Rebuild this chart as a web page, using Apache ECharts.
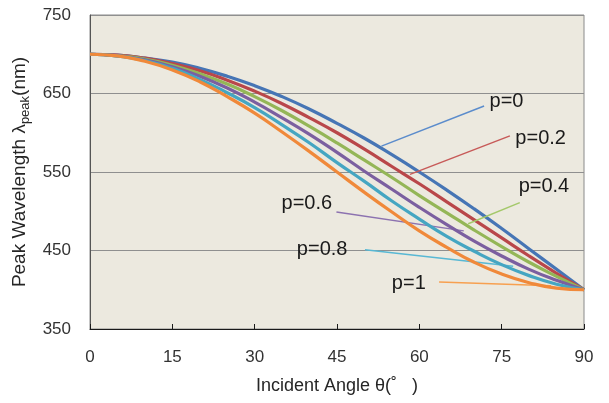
<!DOCTYPE html>
<html>
<head>
<meta charset="utf-8">
<script src="https://cdn.jsdelivr.net/npm/echarts@6/dist/echarts.min.js"></script>
<style>
  html, body { margin: 0; padding: 0; background: #fff; }
  #chart { width: 609px; height: 403px; }
</style>
</head>
<body>
<div id="chart"></div>
<script>
// incident angle (deg)
const angles = [0, 5, 10, 15, 20, 25, 30, 35, 40, 45, 50, 55, 60, 65, 70, 75, 80, 85, 90]

// peak wavelength (nm)
const p0  = [700, 699, 695, 690, 682, 672, 660, 646, 630, 612, 593, 572, 550, 527, 503, 478, 452, 426, 400]
const p02 = [700, 699, 695, 688, 679, 667, 653, 637, 619, 600, 579, 557, 535, 512, 489, 466, 443, 421, 400]
const p04 = [700, 698, 694, 686, 675, 662, 646, 628, 608, 587, 565, 543, 520, 498, 476, 455, 435, 417, 400]
const p06 = [700, 698, 693, 684, 672, 657, 639, 619, 598, 575, 551, 528, 505, 483, 462, 443, 426, 412, 400]
const p08 = [700, 698, 692, 682, 668, 651, 632, 610, 587, 562, 538, 513, 490, 468, 449, 432, 418, 407, 400]
const p1  = [700, 698, 691, 680, 665, 646, 625, 601, 576, 550, 524, 499, 475, 454, 435, 420, 409, 402, 400]

const seriesNames = ['p=0', 'p=0.2', 'p=0.4', 'p=0.6', 'p=0.8', 'p=1']
const seriesValues = [p0, p02, p04, p06, p08, p1]
const colors = ['#4675b5', '#b9474a', '#94b657', '#7b5fa0', '#45a6c2', '#f0893a']
const leaderColors = ['#5b8ccc', '#c75a58', '#a4c86a', '#8c72b0', '#58b8d4', '#f7a050']

const xTicks = { min: 0, max: 90, interval: 15 }
const yTicks = { min: 350, max: 750, interval: 100 }

// leader lines [from curve, to label] and label anchors, in data units
const leaders = [
  [[53.1, 583], [71.8, 634]],
  [[58.3, 547], [76.5, 596]],
  [[68.9, 484], [78.3, 511]],
  [[68.1, 475], [44.9, 499]],
  [[77.1, 430], [50.1, 451]],
  [[84.0, 405], [63.6, 410]]
]
const labelAnchors = [
  [[72.7, 640], 'right'],
  [[77.4, 593], 'right'],
  [[78.0, 531], 'right'],
  [[44.2, 510], 'left'],
  [[47.0, 451], 'left'],
  [[54.9, 408], 'right']
]

const font = 'Liberation Sans, Arial, sans-serif'
const chart = echarts.init(document.getElementById('chart'))

const series = seriesValues.map((vals, i) => ({
  name: seriesNames[i],
  type: 'line',
  smooth: true,
  showSymbol: false,
  data: angles.map((a, k) => [a, vals[k]]),
  lineStyle: { color: colors[i], width: 3.2 },
  itemStyle: { color: colors[i] },
  z: 2 + i,
  markLine: {
    silent: true,
    symbol: 'none',
    animation: false,
    lineStyle: { color: leaderColors[i], width: 1.5, type: 'solid' },
    label: { show: false },
    data: [[{ coord: leaders[i][0] }, { coord: leaders[i][1] }]]
  },
  markPoint: {
    silent: true,
    symbol: 'circle',
    symbolSize: 1,
    itemStyle: { color: 'rgba(0,0,0,0)' },
    label: {
      show: true,
      position: labelAnchors[i][1],
      distance: 0,
      formatter: seriesNames[i],
      color: '#1a1a1a',
      fontSize: 20,
      fontFamily: font
    },
    data: [{ coord: labelAnchors[i][0] }]
  }
}))

chart.setOption({
  animation: false,
  backgroundColor: '#ffffff',
  grid: {
    left: 90,
    right: 25,
    top: 15,
    bottom: 74,
    show: true,
    backgroundColor: '#ece9df',
    borderColor: '#8a8a8a',
    borderWidth: 1
  },
  xAxis: {
    type: 'value',
    min: xTicks.min,
    max: xTicks.max,
    interval: xTicks.interval,
    name: 'Incident Angle θ(˚   )',
    nameLocation: 'middle',
    nameGap: 48,
    nameTextStyle: { fontSize: 18, color: '#262626', fontFamily: font },
    axisLine: { show: true, lineStyle: { color: '#1a1a1a', width: 1 } },
    axisTick: { show: true, inside: true, length: 5, lineStyle: { color: '#1a1a1a' } },
    axisLabel: { margin: 20, fontSize: 17, color: '#333', fontFamily: font },
    splitLine: { show: false }
  },
  yAxis: {
    type: 'value',
    min: yTicks.min,
    max: yTicks.max,
    interval: yTicks.interval,
    name: '{a|Peak Wavelength λ}{s|peak}{a|(nm)}',
    nameLocation: 'middle',
    nameRotate: 90,
    nameGap: 54,
    nameTextStyle: {
      fontFamily: font,
      color: '#262626',
      rich: {
        a: { fontSize: 19, color: '#262626', fontFamily: font, lineHeight: 24, verticalAlign: 'middle' },
        s: { fontSize: 13, color: '#262626', fontFamily: font, lineHeight: 24, verticalAlign: 'bottom', padding: [7, 0, 0, 0] }
      }
    },
    axisLine: { show: true, lineStyle: { color: '#555', width: 1 } },
    axisTick: { show: false },
    axisLabel: { margin: 19, fontSize: 17, color: '#333', fontFamily: font },
    splitLine: { show: true, lineStyle: { color: '#8f8f8f', width: 1 } }
  },
  series: series
})
</script>
</body>
</html>
